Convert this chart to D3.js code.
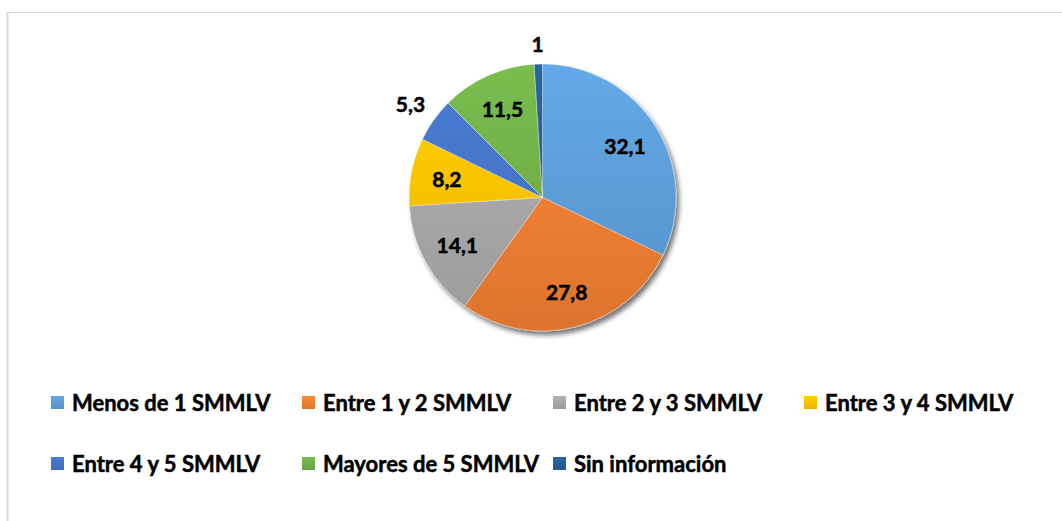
<!DOCTYPE html>
<html>
<head>
<meta charset="utf-8">
<script src="https://cdn.jsdelivr.net/npm/d3@7"></script>
<style>
  html, body { margin: 0; padding: 0; background: #fff; }
  svg { display: block; font-family: Lato, "Open Sans", sans-serif; font-weight: bold; }
</style>
</head>
<body>
<script>
const categories = ['Menos de 1 SMMLV', 'Entre 1 y 2 SMMLV', 'Entre 2 y 3 SMMLV', 'Entre 3 y 4 SMMLV',
  'Entre 4 y 5 SMMLV', 'Mayores de 5 SMMLV', 'Sin información'];
const values = [32.1, 27.8, 14.1, 8.2, 5.3, 11.5, 1];
const labels = ['32,1', '27,8', '14,1', '8,2', '5,3', '11,5', '1'];
const colors = ['#5b9bd5', '#ed7d31', '#a5a5a5', '#ffc000', '#4472c4', '#70ad47', '#255e91'];

const W = 1062, H = 521;
const cx = 542.5, cy = 197.5, R = 133.5;

const svg = d3.select(document.body).append('svg')
  .attr('width', W).attr('height', H);

// cadre gris
svg.append('line').attr('x1', 7).attr('x2', W).attr('y1', 12.5).attr('y2', 12.5)
  .attr('stroke', '#d9d9d9').attr('stroke-width', 1);
svg.append('line').attr('x1', 7.5).attr('x2', 7.5).attr('y1', 12).attr('y2', H)
  .attr('stroke', '#d9d9d9').attr('stroke-width', 2);

const defs = svg.append('defs');
const shadow = defs.append('filter').attr('id', 'shadow')
  .attr('x', '-20%').attr('y', '-20%').attr('width', '140%').attr('height', '140%');
shadow.append('feGaussianBlur').attr('in', 'SourceAlpha').attr('stdDeviation', 2.5);
shadow.append('feOffset').attr('dx', 3).attr('dy', 4).attr('result', 'off');
shadow.append('feComponentTransfer').append('feFuncA').attr('type', 'linear').attr('slope', 0.55);
const merge = shadow.append('feMerge');
merge.append('feMergeNode');
merge.append('feMergeNode').attr('in', 'SourceGraphic');

// dégradés : clair en haut, plus sombre en bas
colors.forEach((c, i) => {
  const g = defs.append('linearGradient').attr('id', 'grad' + i)
    .attr('gradientUnits', 'userSpaceOnUse')
    .attr('x1', 0).attr('y1', -R).attr('x2', 0).attr('y2', R);
  g.append('stop').attr('offset', '0%').attr('stop-color', d3.color(c).brighter(0.25));
  g.append('stop').attr('offset', '100%').attr('stop-color', d3.color(c).darker(0.2));
  const l = defs.append('linearGradient').attr('id', 'lg' + i)
    .attr('x1', 0).attr('y1', 0).attr('x2', 0).attr('y2', 1);
  l.append('stop').attr('offset', '0%').attr('stop-color', d3.color(c).brighter(0.25));
  l.append('stop').attr('offset', '100%').attr('stop-color', d3.color(c).darker(0.2));
});

const pie = d3.pie().sort(null).value(d => d);
const arcs = pie(values);
const arc = d3.arc().innerRadius(0).outerRadius(R);

const gPie = svg.append('g').attr('transform', `translate(${cx},${cy})`);
gPie.append('g').attr('filter', 'url(#shadow)')
  .selectAll('path').data(arcs).join('path')
  .attr('d', arc)
  .attr('fill', (d, i) => `url(#grad${i})`)
  .attr('stroke', '#ffffff').attr('stroke-opacity', 0.6).attr('stroke-width', 0.6);

// étiquettes
gPie.selectAll('text.lbl').data(arcs).join('text')
  .attr('class', 'lbl')
  .attr('font-size', 21)
  .attr('fill', '#000').attr('stroke', '#000').attr('stroke-width', 0.5)
  .attr('text-anchor', 'middle')
  .attr('dominant-baseline', 'central')
  .text((d, i) => labels[i])
  .each(function (d) {
    const a = (d.startAngle + d.endAngle) / 2;
    const ux = Math.sin(a), uy = -Math.cos(a);
    let r;
    if (d.value < 6) {
      const bb = this.getBBox();
      r = R + 12 + Math.abs(ux) * bb.width / 2 + Math.abs(uy) * 8;
    } else {
      r = R * 0.73;
    }
    d3.select(this).attr('x', ux * r).attr('y', uy * r);
  });

// légende
const colX = [51, 302, 553, 804];
const rowY = [402.5, 463.5];
const leg = svg.append('g').selectAll('g').data(categories).join('g')
  .attr('transform', (d, i) => `translate(${colX[i % 4]},${rowY[Math.floor(i / 4)]})`);
leg.append('rect').attr('x', 0).attr('y', -6.5).attr('width', 13).attr('height', 13)
  .attr('fill', (d, i) => `url(#lg${i})`);
leg.append('text').attr('x', 21).attr('y', 0)
  .attr('dominant-baseline', 'central')
  .attr('font-size', 22).attr('fill', '#000').attr('stroke', '#000').attr('stroke-width', 0.5)
  .text(d => d);
</script>
</body>
</html>
